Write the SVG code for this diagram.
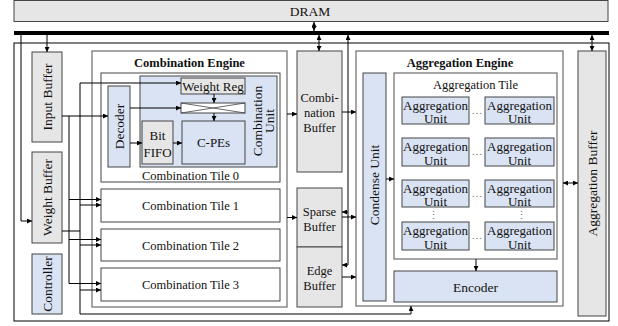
<svg xmlns="http://www.w3.org/2000/svg" width="618" height="326" viewBox="0 0 618 326">
<style>
text{font-family:"Liberation Serif","Times New Roman",serif;font-size:12.5px;fill:#111;text-anchor:middle}
.b{font-weight:bold}
.r{font-size:13.5px}
.g{fill:#e7e6e6;stroke:#444;stroke-width:1}
.bl{fill:#dae3f3;stroke:#444;stroke-width:1}
.w{fill:#fff;stroke:#444;stroke-width:1}
.eng{fill:#fff;stroke:#777;stroke-width:1.3}
.c{fill:none;stroke:#000;stroke-width:1}
.u{font-size:13px}
.dots{fill:#777;font-size:11px}
</style>
<defs>
<marker id="ah" viewBox="0 0 6 6" refX="6" refY="3" markerWidth="5" markerHeight="5" markerUnits="userSpaceOnUse" orient="auto-start-reverse"><path d="M0,0 L6,3 L0,6 z" fill="#000"/></marker>
</defs>
<rect width="618" height="326" fill="#fff"/>

<g id="dram"><rect x="14" y="0.5" width="594" height="21" class="g"/><text class="r" x="310" y="16">DRAM</text></g>
<g id="bus"><rect x="14" y="31" width="595" height="4" fill="#000"/></g>
<g id="chip"><rect x="14" y="43" width="595" height="278" fill="none" stroke="#000" stroke-width="1"/></g>

<g id="input-buffer"><rect x="32" y="52" width="30" height="90" class="g"/><text class="r" transform="translate(51.5,97) rotate(-90)">Input Buffer</text></g>
<g id="weight-buffer"><rect x="32" y="152" width="30" height="91" class="g"/><text class="r" transform="translate(51.5,197.5) rotate(-90)">Weight Buffer</text></g>
<g id="controller"><rect x="32" y="254" width="30" height="60" class="bl"/><text class="r" transform="translate(51.5,284) rotate(-90)">Controller</text></g>

<g id="combination-engine"><rect x="92" y="51" width="195" height="256" class="eng"/><text class="b" x="189.5" y="67">Combination Engine</text></g>
<g id="combination-tile-0"><rect x="101" y="73" width="179" height="109" class="w"/><text x="190.5" y="180">Combination Tile 0</text></g>
<g id="combination-unit"><rect x="140" y="76" width="137" height="91" class="bl"/><text class="r" transform="translate(258,121) rotate(-90)" y="4">Combination</text><text class="r" transform="translate(270,121) rotate(-90)" y="4">Unit</text></g>
<g id="weight-reg"><rect x="181" y="78" width="64" height="16" class="g"/><text class="u" x="213" y="90.5">Weight Reg</text></g>
<g id="crossbar"><rect x="181" y="103" width="64" height="10" class="w"/><path d="M181,103 L245,113 M181,113 L245,103" stroke="#444" stroke-width="0.8" fill="none"/></g>
<g id="c-pes"><rect x="182" y="121" width="63" height="43" class="bl"/><text class="u" x="213.5" y="147">C-PEs</text></g>
<g id="bit-fifo"><rect x="142" y="121" width="31" height="43" class="g"/><text class="u" x="157.5" y="139.5">Bit</text><text class="u" x="157.5" y="157">FIFO</text></g>
<g id="decoder"><rect x="108" y="86" width="22" height="81" class="bl"/><text class="r" transform="translate(119,126.5) rotate(-90)" y="4.5">Decoder</text></g>
<g id="combination-tile-1"><rect x="101" y="189" width="179" height="33" class="w"/><text x="190.5" y="210">Combination Tile 1</text></g>
<g id="combination-tile-2"><rect x="101" y="229" width="179" height="32" class="w"/><text x="190.5" y="249.5">Combination Tile 2</text></g>
<g id="combination-tile-3"><rect x="101" y="268" width="179" height="33" class="w"/><text x="190.5" y="289">Combination Tile 3</text></g>

<g id="combination-buffer"><rect x="297" y="51" width="45" height="121" class="g"/><text x="319.5" y="102">Combi-</text><text x="319.5" y="117">nation</text><text x="319.5" y="132">Buffer</text></g>
<g id="sparse-buffer"><rect x="297" y="188" width="45" height="59" class="g"/><text x="319.5" y="216">Sparse</text><text x="319.5" y="230.5">Buffer</text></g>
<g id="edge-buffer"><rect x="297" y="247" width="45" height="60" class="g"/><text x="319.5" y="275">Edge</text><text x="319.5" y="289.5">Buffer</text></g>

<g id="aggregation-engine"><rect x="356" y="51" width="207" height="255" class="eng"/><text class="b" x="460" y="67">Aggregation Engine</text></g>
<g id="condense-unit"><rect x="363" y="73" width="23" height="228" class="bl"/><text class="r" transform="translate(374.5,185) rotate(-90)" y="4.5">Condense Unit</text></g>
<g id="aggregation-tile"><rect x="394" y="73" width="163" height="186" class="eng" stroke-width="1"/><text x="475.5" y="88.5">Aggregation Tile</text></g>
<g id="agg-unit-1a"><rect x="402" y="97" width="67" height="27" class="bl"/><text class="u" x="435.5" y="109.5">Aggregation</text><text class="u" x="435.5" y="123">Unit</text></g>
<g id="agg-unit-1b"><rect x="485" y="97" width="69" height="27" class="bl"/><text class="u" x="519.5" y="109.5">Aggregation</text><text class="u" x="519.5" y="123">Unit</text></g>
<g id="agg-unit-2a"><rect x="402" y="138" width="67" height="28" class="bl"/><text class="u" x="435.5" y="151">Aggregation</text><text class="u" x="435.5" y="165">Unit</text></g>
<g id="agg-unit-2b"><rect x="485" y="138" width="69" height="28" class="bl"/><text class="u" x="519.5" y="151">Aggregation</text><text class="u" x="519.5" y="165">Unit</text></g>
<g id="agg-unit-3a"><rect x="402" y="180" width="67" height="27" class="bl"/><text class="u" x="435.5" y="192.5">Aggregation</text><text class="u" x="435.5" y="206">Unit</text></g>
<g id="agg-unit-3b"><rect x="485" y="180" width="69" height="27" class="bl"/><text class="u" x="519.5" y="192.5">Aggregation</text><text class="u" x="519.5" y="206">Unit</text></g>
<g id="agg-unit-4a"><rect x="402" y="222" width="67" height="28" class="bl"/><text class="u" x="435.5" y="235">Aggregation</text><text class="u" x="435.5" y="249">Unit</text></g>
<g id="agg-unit-4b"><rect x="485" y="222" width="69" height="28" class="bl"/><text class="u" x="519.5" y="235">Aggregation</text><text class="u" x="519.5" y="249">Unit</text></g>
<g id="ellipses">
<text class="dots" x="477" y="114">…</text><text class="dots" x="477" y="155">…</text><text class="dots" x="477" y="197">…</text><text class="dots" x="477" y="239">…</text>
<text class="dots" x="433" y="219">⋮</text><text class="dots" x="521" y="219">⋮</text>
</g>
<g id="encoder"><rect x="394" y="271" width="163" height="31" class="bl"/><text class="r" x="475.5" y="291.5">Encoder</text></g>
<g id="aggregation-buffer"><rect x="578" y="51" width="28" height="265" class="g"/><text class="r" transform="translate(592,183.5) rotate(-90)" y="4.5">Aggregation Buffer</text></g>

<g id="connectors" class="c">
<path d="M314,22 V31" marker-start="url(#ah)" marker-end="url(#ah)"/>
<path d="M47,35 V52" marker-end="url(#ah)"/>
<path d="M319,35 V51" marker-start="url(#ah)" marker-end="url(#ah)"/>
<path d="M592,35 V51" marker-start="url(#ah)" marker-end="url(#ah)"/>
<path d="M21,35 V221 H32" marker-end="url(#ah)"/>
<path d="M62,116 H108" marker-end="url(#ah)"/>
<path d="M69,116 V283.5 H101" marker-end="url(#ah)"/>
<path d="M69,199.5 H101" marker-end="url(#ah)"/>
<path d="M69,239.5 H101" marker-end="url(#ah)"/>
<path d="M62,231 H80"/>
<path d="M181,83 H80 V314 H411 V306" marker-start="url(#ah)" marker-end="url(#ah)"/>
<path d="M80,205 H101" marker-end="url(#ah)"/>
<path d="M80,245 H101" marker-end="url(#ah)"/>
<path d="M80,290 H101" marker-end="url(#ah)"/>
<path d="M130,108 H181" marker-end="url(#ah)"/>
<path d="M130,143 H142" marker-end="url(#ah)"/>
<path d="M173,143 H182" marker-end="url(#ah)"/>
<path d="M214,94 V103" marker-end="url(#ah)"/>
<path d="M214,113 V121" marker-end="url(#ah)"/>
<path d="M287,114 H297" marker-end="url(#ah)"/>
<path d="M287,217.5 H297" marker-end="url(#ah)"/>
<path d="M342,112 H356" marker-end="url(#ah)"/>
<path d="M342,217 H356" marker-end="url(#ah)"/>
<path d="M342,277 H356" marker-end="url(#ah)"/>
<path d="M348,265 V35" marker-end="url(#ah)"/>
<path d="M348,212 H342" marker-end="url(#ah)"/>
<path d="M348,265 H342" marker-end="url(#ah)"/>
<path d="M386,179 H394" marker-end="url(#ah)"/>
<path d="M476,259 V271" marker-end="url(#ah)"/>
<path d="M563,183 H578" marker-start="url(#ah)" marker-end="url(#ah)"/>
</g>
</svg>
